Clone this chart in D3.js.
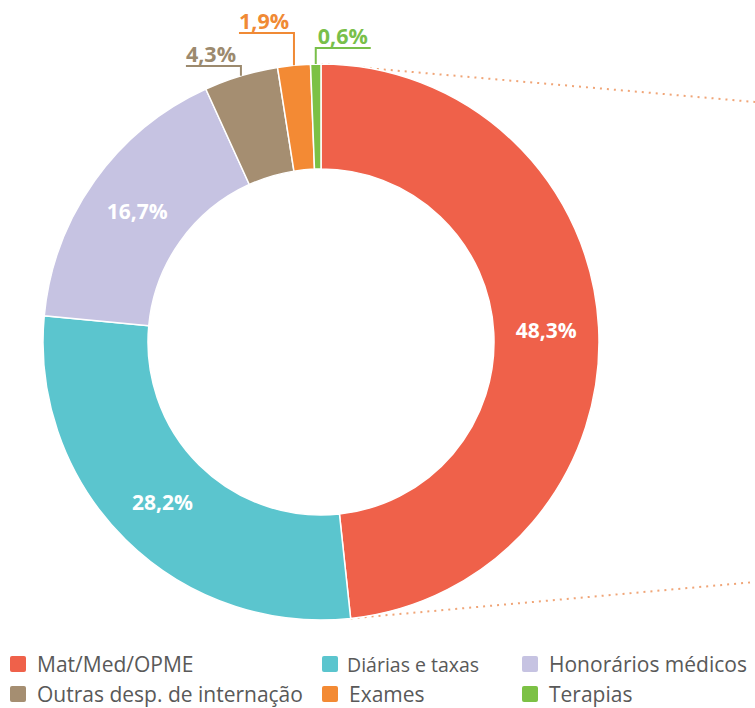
<!DOCTYPE html>
<html lang="pt">
<head>
    <meta charset="UTF-8">
    <title></title>
    <style type="text/css">
        html, body { padding:0; margin:0; background:#fff; }
        svg { display:block; }
    </style>
</head>
<body>
<script src="https://d3js.org/d3.v7.min.js"></script>
<script>
    // data
    var categories = ['Mat/Med/OPME', 'Diárias e taxas', 'Honorários médicos',
                      'Outras desp. de internação', 'Exames', 'Terapias'];
    var values = [48.3, 28.2, 16.7, 4.3, 1.9, 0.6];
    var colors = ['#ef614a', '#5bc5ce', '#c6c3e2', '#a58e71', '#f38a34', '#7cc145'];
    var labelColors = ['#fff', '#fff', '#fff', '#9c8a6e', '#f08a35', '#79bf4a'];

    var chart = {};

    chart.options = {
        width: 755,
        height: 708,
        cx: 321,
        cy: 342,
        outer: 278,
        inner: 173
    };

    var pt = d3.formatLocale({ decimal: ',', thousands: '.', grouping: [3], currency: ['R$', ''] });
    var fmt = pt.format('.1f');

    chart.init = function() {
        var o = this.options;
        this.svg = d3.select('body').append('svg')
            .attr('width', o.width)
            .attr('height', o.height);

        this.renderGuides();
        this.renderDonut();
        this.renderLegend();
    };

    chart.renderGuides = function() {
        var o = this.options;
        // dotted lines leading off to the right from the red slice edges
        var g = this.svg.append('g');
        var bottomAngle = values[0] / 100 * 2 * Math.PI;
        var ends = [
            { a: 0, y2: 102 },
            { a: bottomAngle, y2: 582 }
        ];
        g.selectAll('line').data(ends).enter().append('line')
            .attr('x1', function(d) { return o.cx + o.outer * Math.sin(d.a); })
            .attr('y1', function(d) { return o.cy - o.outer * Math.cos(d.a); })
            .attr('x2', o.width)
            .attr('y2', function(d) { return d.y2; })
            .attr('stroke', '#f0a577')
            .attr('stroke-width', 2)
            .attr('stroke-dasharray', '2,5');
    };

    chart.renderDonut = function() {
        var o = this.options;
        var pie = d3.pie().sort(null).value(function(d) { return d; });
        var arcs = pie(values);
        var arc = d3.arc().innerRadius(o.inner).outerRadius(o.outer);
        var mid = d3.arc().innerRadius((o.inner + o.outer) / 2).outerRadius((o.inner + o.outer) / 2);

        var g = this.svg.append('g')
            .attr('transform', 'translate(' + o.cx + ',' + o.cy + ')');

        g.selectAll('path').data(arcs).enter().append('path')
            .attr('d', arc)
            .attr('fill', function(d, i) { return colors[i]; })
            .attr('stroke', '#fff')
            .attr('stroke-width', 1.5);

        // big slices: label inside the ring
        g.selectAll('text.in').data(arcs.filter(function(d) { return d.value > 10; }))
            .enter().append('text')
            .attr('class', 'in')
            .attr('transform', function(d) { return 'translate(' + mid.centroid(d) + ')'; })
            .attr('dy', '0.36em')
            .attr('text-anchor', 'middle')
            .style('font-family', '"Open Sans", sans-serif')
            .style('font-weight', 700)
            .style('font-size', '21px')
            .attr('fill', '#fff')
            .text(function(d) { return fmt(d.value) + '%'; });

        // small slices: leader line going up, then a short underline
        var leaderTop = { 3: -276, 4: -309, 5: -294 };   // relative to centre
        var leaderDir = { 3: -1, 4: -1, 5: 1 };
        var small = arcs.filter(function(d) { return d.value < 10; });
        var lg = g.selectAll('g.out').data(small).enter().append('g').attr('class', 'out');

        lg.append('path')
            .attr('fill', 'none')
            .attr('stroke', function(d) { return labelColors[d.index]; })
            .attr('stroke-width', 2)
            .attr('d', function(d) {
                var a = (d.startAngle + d.endAngle) / 2;
                var x = o.outer * Math.sin(a), y = -o.outer * Math.cos(a);
                var yt = leaderTop[d.index];
                return 'M' + x + ',' + y + 'V' + yt + 'H' + (x + 55 * leaderDir[d.index]);
            });

        lg.append('text')
            .attr('x', function(d) {
                var a = (d.startAngle + d.endAngle) / 2;
                var x = o.outer * Math.sin(a);
                return leaderDir[d.index] < 0 ? x - 55 : x + 2;
            })
            .attr('y', function(d) { return leaderTop[d.index] - 4; })
            .style('font-family', '"Open Sans", sans-serif')
            .style('font-weight', 700)
            .style('font-size', '21.5px')
            .attr('fill', function(d) { return labelColors[d.index]; })
            .text(function(d) { return fmt(d.value) + '%'; });
    };

    chart.renderLegend = function() {
        var colX = [10, 322, 522];
        var rowY = [656, 686];
        var g = this.svg.append('g');
        var items = g.selectAll('g').data(categories).enter().append('g')
            .attr('transform', function(d, i) {
                return 'translate(' + colX[i % 3] + ',' + rowY[Math.floor(i / 3)] + ')';
            });
        items.append('rect')
            .attr('width', 16)
            .attr('height', 16)
            .attr('rx', 2)
            .attr('fill', function(d, i) { return colors[i]; });
        items.append('text')
            .attr('x', function(d, i) { return i === 1 ? 25 : 27; })
            .attr('y', 16)
            .style('font-family', '"Open Sans", sans-serif')
            .style('font-size', function(d, i) { return i === 1 ? '19.5px' : '21px'; })
            .attr('fill', '#595959')
            .text(function(d) { return d; });
    };

    chart.init();
</script>
</body>
</html>
